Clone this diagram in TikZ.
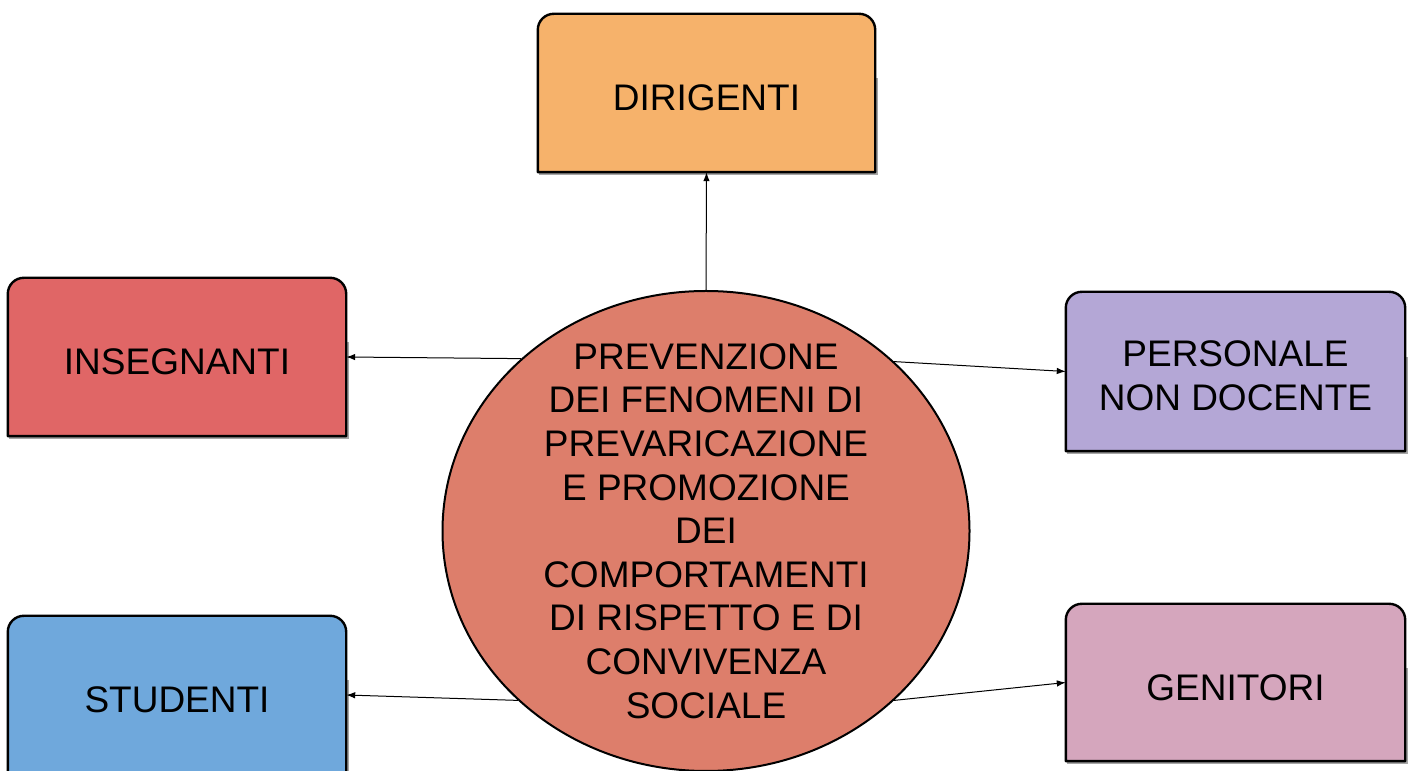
\documentclass[tikz,border=0pt]{standalone}
\usepackage{fontspec}
\setmainfont{Liberation Sans}
\usetikzlibrary{shapes.geometric,arrows.meta}
\definecolor{cdir}{HTML}{F6B26B}
\definecolor{cins}{HTML}{E06666}
\definecolor{cper}{HTML}{B4A7D6}
\definecolor{cstu}{HTML}{6FA8DC}
\definecolor{cgen}{HTML}{D5A6BD}
\definecolor{ccen}{HTML}{DD7E6B}
\tikzset{
  boxnode/.style={rectangle, inner sep=0pt, minimum width=338pt, minimum height=158pt},
  boxline/.style={line width=2.4pt, draw=black, line join=round},
  boxshadow/.style={line width=2.4pt, draw=black!35},
  boxtext/.style={font=\fontsize{37}{43.6}\selectfont, align=center},
  centre/.style={ellipse, draw=black, line width=2pt, fill=ccen, inner xsep=0pt, inner ysep=-40pt,
    minimum width=527pt, minimum height=480pt, align=center,
    font=\fontsize{37}{43.6}\selectfont},
  arr/.style={-{Latex[length=9pt,width=6.5pt]}, line width=1pt, draw=black}
}
\newcommand{\topround}[2]{%
  \draw[boxshadow] ([xshift=1.5pt,yshift=-1.5pt]#1.south west) -- ([xshift=1.5pt,yshift=-1.5pt]#1.south east) -- ([xshift=1.5pt,yshift=14.5pt]#1.east);
  \draw[boxline, fill=#2] (#1.south west) -- ([yshift=-16pt]#1.north west)
    arc[start angle=180, end angle=90, radius=16pt]
    -- ([xshift=-16pt]#1.north east)
    arc[start angle=90, end angle=0, radius=16pt]
    -- (#1.south east) -- cycle;
}
\begin{document}
\begin{tikzpicture}[x=1pt,y=1pt]
\useasboundingbox (0,0) rectangle (1411,771);
\fill[white] (0,0) rectangle (1411,771);

% box nodes (positions only; shapes drawn below)
\node[boxnode, minimum width=337pt] (dir) at (706.5,678) {};
\node[boxnode] (ins) at (177,414) {};
\node[boxnode, minimum width=339pt, minimum height=159pt] (per) at (1235.5,399.5) {};
\node[boxnode] (stu) at (177,76) {};
\node[boxnode, minimum width=339pt, minimum height=157pt] (gen) at (1235.5,88.5) {};

\topround{dir}{cdir}
\topround{ins}{cins}
\topround{per}{cper}
\topround{stu}{cstu}
\topround{gen}{cgen}

\node[boxtext] (tdir) at ([yshift=-5pt]dir.center) {DIRIGENTI};
\node[boxtext] (tins) at ([yshift=-5pt]ins.center) {INSEGNANTI};
\node[boxtext] (tper) at ([yshift=-4pt]per.center) {PERSONALE\\NON DOCENTE};
\node[boxtext] (tstu) at ([yshift=-5pt]stu.center) {STUDENTI};
\node[boxtext] (tgen) at ([yshift=-5pt]gen.center) {GENITORI};

\node[centre] (c) at (706,240) {PREVENZIONE\\DEI FENOMENI DI\\PREVARICAZIONE\\E PROMOZIONE\\DEI\\COMPORTAMENTI\\DI RISPETTO E DI\\CONVIVENZA\\SOCIALE};

\draw[arr] (c.north) -- (dir.south);
\draw[arr] (c.137.7) -- (ins.east);
\draw[arr] (c.42.1) -- (per.west);
\draw[arr] (c.222.3) -- (stu.east);
\draw[arr] (c.318.2) -- (gen.west);
\end{tikzpicture}
\end{document}
